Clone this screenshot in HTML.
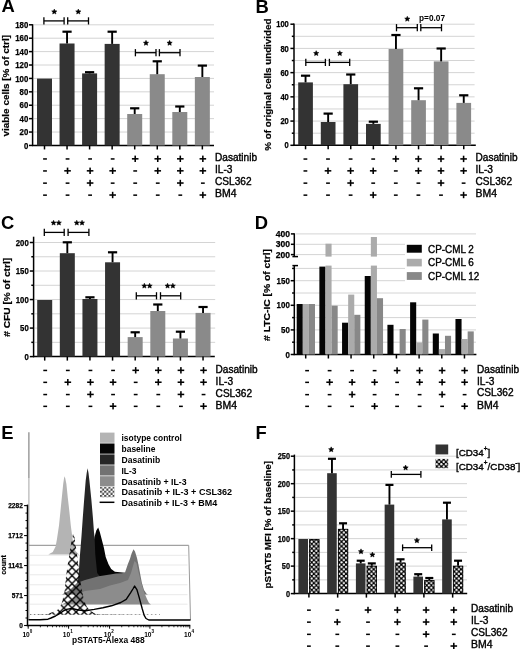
<!DOCTYPE html>
<html><head><meta charset="utf-8"><style>
html,body{margin:0;padding:0;background:#fff;-webkit-font-smoothing:antialiased;}
svg{display:block;will-change:transform;}
text{font-family:"Liberation Sans",sans-serif;}
</style></head><body>
<svg width="520" height="649" viewBox="0 0 520 649">
<defs>
<pattern id="chk" patternUnits="userSpaceOnUse" width="4.6" height="4.6">
<rect width="4.6" height="4.6" fill="#000"/>
<circle cx="1.15" cy="1.15" r="1.15" fill="#fff"/>
<circle cx="3.45" cy="3.45" r="1.15" fill="#fff"/>
</pattern>
<pattern id="chk2" patternUnits="userSpaceOnUse" width="4.6" height="4.6" patternTransform="translate(435.6,458.4)">
<rect width="4.6" height="4.6" fill="#000"/>
<circle cx="1.15" cy="1.15" r="1.15" fill="#fff"/>
<circle cx="3.45" cy="3.45" r="1.15" fill="#fff"/>
</pattern>
<pattern id="xh" patternUnits="userSpaceOnUse" width="8.1" height="8.1" patternTransform="translate(3.2,4.5)">
<path d="M-1,-1L9.1,9.1M9.1,-1L-1,9.1" stroke="#000" stroke-width="1.4"/>
</pattern>
<pattern id="fchk" patternUnits="userSpaceOnUse" width="4.2" height="4.2" patternTransform="translate(100,486.5)">
<rect width="4.2" height="4.2" fill="#fff"/>
<rect width="2.1" height="2.1" fill="#4a4a4a"/>
<rect x="2.1" y="2.1" width="2.1" height="2.1" fill="#4a4a4a"/>
</pattern>
</defs>
<rect width="520" height="649" fill="#fff"/>
<line x1="33.6" y1="132.04" x2="214" y2="132.04" stroke="#d4d4d4" stroke-width="1" />
<line x1="33.6" y1="118.64" x2="214" y2="118.64" stroke="#d4d4d4" stroke-width="1" />
<line x1="33.6" y1="105.23" x2="214" y2="105.23" stroke="#d4d4d4" stroke-width="1" />
<line x1="33.6" y1="91.83" x2="214" y2="91.83" stroke="#d4d4d4" stroke-width="1" />
<line x1="33.6" y1="78.42" x2="214" y2="78.42" stroke="#d4d4d4" stroke-width="1" />
<line x1="33.6" y1="65.02" x2="214" y2="65.02" stroke="#d4d4d4" stroke-width="1" />
<line x1="33.6" y1="51.61" x2="214" y2="51.61" stroke="#d4d4d4" stroke-width="1" />
<line x1="33.6" y1="38.21" x2="214" y2="38.21" stroke="#d4d4d4" stroke-width="1" />
<line x1="33.6" y1="24.8" x2="214" y2="24.8" stroke="#d4d4d4" stroke-width="1" />
<line x1="29" y1="145.45" x2="32.6" y2="145.45" stroke="#000" stroke-width="1.5" />
<text x="28.3" y="148.53" font-size="8.6" font-weight="bold" text-anchor="end" textLength="4.35" lengthAdjust="spacingAndGlyphs" stroke="#000" stroke-width="0.25">0</text>
<line x1="29" y1="132.04" x2="32.6" y2="132.04" stroke="#000" stroke-width="1.5" />
<text x="28.3" y="135.12" font-size="8.6" font-weight="bold" text-anchor="end" textLength="8.7" lengthAdjust="spacingAndGlyphs" stroke="#000" stroke-width="0.25">20</text>
<line x1="29" y1="118.64" x2="32.6" y2="118.64" stroke="#000" stroke-width="1.5" />
<text x="28.3" y="121.72" font-size="8.6" font-weight="bold" text-anchor="end" textLength="8.7" lengthAdjust="spacingAndGlyphs" stroke="#000" stroke-width="0.25">40</text>
<line x1="29" y1="105.23" x2="32.6" y2="105.23" stroke="#000" stroke-width="1.5" />
<text x="28.3" y="108.31" font-size="8.6" font-weight="bold" text-anchor="end" textLength="8.7" lengthAdjust="spacingAndGlyphs" stroke="#000" stroke-width="0.25">60</text>
<line x1="29" y1="91.83" x2="32.6" y2="91.83" stroke="#000" stroke-width="1.5" />
<text x="28.3" y="94.91" font-size="8.6" font-weight="bold" text-anchor="end" textLength="8.7" lengthAdjust="spacingAndGlyphs" stroke="#000" stroke-width="0.25">80</text>
<line x1="29" y1="78.42" x2="32.6" y2="78.42" stroke="#000" stroke-width="1.5" />
<text x="28.3" y="81.5" font-size="8.6" font-weight="bold" text-anchor="end" textLength="13.05" lengthAdjust="spacingAndGlyphs" stroke="#000" stroke-width="0.25">100</text>
<line x1="29" y1="65.02" x2="32.6" y2="65.02" stroke="#000" stroke-width="1.5" />
<text x="28.3" y="68.1" font-size="8.6" font-weight="bold" text-anchor="end" textLength="13.05" lengthAdjust="spacingAndGlyphs" stroke="#000" stroke-width="0.25">120</text>
<line x1="29" y1="51.61" x2="32.6" y2="51.61" stroke="#000" stroke-width="1.5" />
<text x="28.3" y="54.69" font-size="8.6" font-weight="bold" text-anchor="end" textLength="13.05" lengthAdjust="spacingAndGlyphs" stroke="#000" stroke-width="0.25">140</text>
<line x1="29" y1="38.21" x2="32.6" y2="38.21" stroke="#000" stroke-width="1.5" />
<text x="28.3" y="41.28" font-size="8.6" font-weight="bold" text-anchor="end" textLength="13.05" lengthAdjust="spacingAndGlyphs" stroke="#000" stroke-width="0.25">160</text>
<line x1="29" y1="24.8" x2="32.6" y2="24.8" stroke="#000" stroke-width="1.5" />
<text x="28.3" y="27.88" font-size="8.6" font-weight="bold" text-anchor="end" textLength="13.05" lengthAdjust="spacingAndGlyphs" stroke="#000" stroke-width="0.25">180</text>
<line x1="32.6" y1="24.2" x2="32.6" y2="146.05" stroke="#000" stroke-width="1.5" />
<line x1="32" y1="145.45" x2="214" y2="145.45" stroke="#000" stroke-width="1.5" />
<rect x="37" y="78.6" width="15" height="66.85" fill="#333333"/>
<line x1="44.5" y1="145.45" x2="44.5" y2="149.45" stroke="#000" stroke-width="1.5" />
<rect x="59.55" y="43.5" width="15" height="101.95" fill="#333333"/>
<line x1="67.05" y1="43.5" x2="67.05" y2="31.7" stroke="#000" stroke-width="1.9" />
<line x1="62.45" y1="31.7" x2="71.65" y2="31.7" stroke="#000" stroke-width="2.2" />
<line x1="67.05" y1="145.45" x2="67.05" y2="149.45" stroke="#000" stroke-width="1.5" />
<rect x="82.1" y="73.4" width="15" height="72.05" fill="#333333"/>
<line x1="89.6" y1="73.4" x2="89.6" y2="72.2" stroke="#000" stroke-width="1.9" />
<line x1="85" y1="72.2" x2="94.2" y2="72.2" stroke="#000" stroke-width="2.2" />
<line x1="89.6" y1="145.45" x2="89.6" y2="149.45" stroke="#000" stroke-width="1.5" />
<rect x="104.65" y="43.9" width="15" height="101.55" fill="#333333"/>
<line x1="112.15" y1="43.9" x2="112.15" y2="31.7" stroke="#000" stroke-width="1.9" />
<line x1="107.55" y1="31.7" x2="116.75" y2="31.7" stroke="#000" stroke-width="2.2" />
<line x1="112.15" y1="145.45" x2="112.15" y2="149.45" stroke="#000" stroke-width="1.5" />
<rect x="127.2" y="114" width="15" height="31.45" fill="#8a8a8a"/>
<line x1="134.7" y1="114" x2="134.7" y2="108.3" stroke="#000" stroke-width="1.9" />
<line x1="130.1" y1="108.3" x2="139.3" y2="108.3" stroke="#000" stroke-width="2.2" />
<line x1="134.7" y1="145.45" x2="134.7" y2="149.45" stroke="#000" stroke-width="1.5" />
<rect x="149.75" y="74.2" width="15" height="71.25" fill="#8a8a8a"/>
<line x1="157.25" y1="74.2" x2="157.25" y2="61.3" stroke="#000" stroke-width="1.9" />
<line x1="152.65" y1="61.3" x2="161.85" y2="61.3" stroke="#000" stroke-width="2.2" />
<line x1="157.25" y1="145.45" x2="157.25" y2="149.45" stroke="#000" stroke-width="1.5" />
<rect x="172.3" y="112" width="15" height="33.45" fill="#8a8a8a"/>
<line x1="179.8" y1="112" x2="179.8" y2="106.5" stroke="#000" stroke-width="1.9" />
<line x1="175.2" y1="106.5" x2="184.4" y2="106.5" stroke="#000" stroke-width="2.2" />
<line x1="179.8" y1="145.45" x2="179.8" y2="149.45" stroke="#000" stroke-width="1.5" />
<rect x="194.85" y="77" width="15" height="68.45" fill="#8a8a8a"/>
<line x1="202.35" y1="77" x2="202.35" y2="65.6" stroke="#000" stroke-width="1.9" />
<line x1="197.75" y1="65.6" x2="206.95" y2="65.6" stroke="#000" stroke-width="2.2" />
<line x1="202.35" y1="145.45" x2="202.35" y2="149.45" stroke="#000" stroke-width="1.5" />
<line x1="43.9" y1="20.9" x2="64.1" y2="20.9" stroke="#000" stroke-width="1.3" />
<line x1="43.9" y1="17.3" x2="43.9" y2="24.5" stroke="#000" stroke-width="1.3" />
<line x1="64.1" y1="17.3" x2="64.1" y2="24.5" stroke="#000" stroke-width="1.3" />
<path d="M54.3,9.05 L55.06,10.75 L56.92,10.95 L55.54,12.2 L55.92,14.02 L54.3,13.1 L52.68,14.02 L53.06,12.2 L51.68,10.95 L53.54,10.75 Z" fill="#000" stroke="#000" stroke-width="0.5" stroke-linejoin="round"/>
<line x1="67.7" y1="20.9" x2="88.5" y2="20.9" stroke="#000" stroke-width="1.3" />
<line x1="67.7" y1="17.3" x2="67.7" y2="24.5" stroke="#000" stroke-width="1.3" />
<line x1="88.5" y1="17.3" x2="88.5" y2="24.5" stroke="#000" stroke-width="1.3" />
<path d="M78.3,9.05 L79.06,10.75 L80.92,10.95 L79.54,12.2 L79.92,14.02 L78.3,13.1 L76.68,14.02 L77.06,12.2 L75.68,10.95 L77.54,10.75 Z" fill="#000" stroke="#000" stroke-width="0.5" stroke-linejoin="round"/>
<line x1="135.4" y1="52.7" x2="156" y2="52.7" stroke="#000" stroke-width="1.3" />
<line x1="135.4" y1="49.1" x2="135.4" y2="56.3" stroke="#000" stroke-width="1.3" />
<line x1="156" y1="49.1" x2="156" y2="56.3" stroke="#000" stroke-width="1.3" />
<path d="M146,40.35 L146.76,42.05 L148.62,42.25 L147.24,43.5 L147.62,45.32 L146,44.4 L144.38,45.32 L144.76,43.5 L143.38,42.25 L145.24,42.05 Z" fill="#000" stroke="#000" stroke-width="0.5" stroke-linejoin="round"/>
<line x1="159.4" y1="52.7" x2="180" y2="52.7" stroke="#000" stroke-width="1.3" />
<line x1="159.4" y1="49.1" x2="159.4" y2="56.3" stroke="#000" stroke-width="1.3" />
<line x1="180" y1="49.1" x2="180" y2="56.3" stroke="#000" stroke-width="1.3" />
<path d="M169.6,40.35 L170.36,42.05 L172.22,42.25 L170.84,43.5 L171.22,45.32 L169.6,44.4 L167.98,45.32 L168.36,43.5 L166.98,42.25 L168.84,42.05 Z" fill="#000" stroke="#000" stroke-width="0.5" stroke-linejoin="round"/>
<text transform="translate(9.4,85.75) rotate(-90)" x="0" y="0" font-size="9.6" font-weight="bold" text-anchor="middle" textLength="101.5" lengthAdjust="spacingAndGlyphs" stroke="#000" stroke-width="0.2">viable cells [% of ctrl]</text>
<rect x="43.1" y="158.2" width="3.8" height="1.5" fill="#000"/>
<rect x="65.65" y="158.2" width="3.8" height="1.5" fill="#000"/>
<rect x="88.2" y="158.2" width="3.8" height="1.5" fill="#000"/>
<rect x="110.75" y="158.2" width="3.8" height="1.5" fill="#000"/>
<rect x="131.9" y="158.05" width="6.6" height="1.55" fill="#000"/>
<rect x="134.42" y="155.6" width="1.55" height="6.4" fill="#000"/>
<rect x="154.45" y="158.05" width="6.6" height="1.55" fill="#000"/>
<rect x="156.97" y="155.6" width="1.55" height="6.4" fill="#000"/>
<rect x="177" y="158.05" width="6.6" height="1.55" fill="#000"/>
<rect x="179.52" y="155.6" width="1.55" height="6.4" fill="#000"/>
<rect x="199.55" y="158.05" width="6.6" height="1.55" fill="#000"/>
<rect x="202.07" y="155.6" width="1.55" height="6.4" fill="#000"/>
<text x="215" y="160.6" font-size="10.3" font-weight="normal" text-anchor="start" fill="#000" textLength="42" lengthAdjust="spacingAndGlyphs"  stroke="#000" stroke-width="0.38">Dasatinib</text>
<rect x="43.1" y="170.2" width="3.8" height="1.5" fill="#000"/>
<rect x="64.25" y="170.05" width="6.6" height="1.55" fill="#000"/>
<rect x="66.77" y="167.6" width="1.55" height="6.4" fill="#000"/>
<rect x="86.8" y="170.05" width="6.6" height="1.55" fill="#000"/>
<rect x="89.32" y="167.6" width="1.55" height="6.4" fill="#000"/>
<rect x="109.35" y="170.05" width="6.6" height="1.55" fill="#000"/>
<rect x="111.87" y="167.6" width="1.55" height="6.4" fill="#000"/>
<rect x="133.3" y="170.2" width="3.8" height="1.5" fill="#000"/>
<rect x="154.45" y="170.05" width="6.6" height="1.55" fill="#000"/>
<rect x="156.97" y="167.6" width="1.55" height="6.4" fill="#000"/>
<rect x="177" y="170.05" width="6.6" height="1.55" fill="#000"/>
<rect x="179.52" y="167.6" width="1.55" height="6.4" fill="#000"/>
<rect x="199.55" y="170.05" width="6.6" height="1.55" fill="#000"/>
<rect x="202.07" y="167.6" width="1.55" height="6.4" fill="#000"/>
<text x="215" y="172.7" font-size="10.3" font-weight="normal" text-anchor="start" fill="#000" textLength="17.5" lengthAdjust="spacingAndGlyphs"  stroke="#000" stroke-width="0.38">IL-3</text>
<rect x="43.1" y="182.4" width="3.8" height="1.5" fill="#000"/>
<rect x="65.65" y="182.4" width="3.8" height="1.5" fill="#000"/>
<rect x="86.8" y="182.25" width="6.6" height="1.55" fill="#000"/>
<rect x="89.32" y="179.8" width="1.55" height="6.4" fill="#000"/>
<rect x="110.75" y="182.4" width="3.8" height="1.5" fill="#000"/>
<rect x="133.3" y="182.4" width="3.8" height="1.5" fill="#000"/>
<rect x="155.85" y="182.4" width="3.8" height="1.5" fill="#000"/>
<rect x="177" y="182.25" width="6.6" height="1.55" fill="#000"/>
<rect x="179.52" y="179.8" width="1.55" height="6.4" fill="#000"/>
<rect x="200.95" y="182.4" width="3.8" height="1.5" fill="#000"/>
<text x="215" y="184.9" font-size="10.3" font-weight="normal" text-anchor="start" fill="#000" textLength="36.5" lengthAdjust="spacingAndGlyphs"  stroke="#000" stroke-width="0.38">CSL362</text>
<rect x="43.1" y="194.4" width="3.8" height="1.5" fill="#000"/>
<rect x="65.65" y="194.4" width="3.8" height="1.5" fill="#000"/>
<rect x="88.2" y="194.4" width="3.8" height="1.5" fill="#000"/>
<rect x="109.35" y="194.25" width="6.6" height="1.55" fill="#000"/>
<rect x="111.87" y="191.8" width="1.55" height="6.4" fill="#000"/>
<rect x="133.3" y="194.4" width="3.8" height="1.5" fill="#000"/>
<rect x="155.85" y="194.4" width="3.8" height="1.5" fill="#000"/>
<rect x="178.4" y="194.4" width="3.8" height="1.5" fill="#000"/>
<rect x="199.55" y="194.25" width="6.6" height="1.55" fill="#000"/>
<rect x="202.07" y="191.8" width="1.55" height="6.4" fill="#000"/>
<text x="215" y="196.9" font-size="10.3" font-weight="normal" text-anchor="start" fill="#000" textLength="21.5" lengthAdjust="spacingAndGlyphs"  stroke="#000" stroke-width="0.38">BM4</text>
<text x="1.6" y="12.4" font-size="18.4" font-weight="bold" text-anchor="start" fill="#000" >A</text>
<line x1="295" y1="133.19" x2="474.6" y2="133.19" stroke="#d4d4d4" stroke-width="1" />
<line x1="295" y1="121.08" x2="474.6" y2="121.08" stroke="#d4d4d4" stroke-width="1" />
<line x1="295" y1="108.97" x2="474.6" y2="108.97" stroke="#d4d4d4" stroke-width="1" />
<line x1="295" y1="96.86" x2="474.6" y2="96.86" stroke="#d4d4d4" stroke-width="1" />
<line x1="295" y1="84.75" x2="474.6" y2="84.75" stroke="#d4d4d4" stroke-width="1" />
<line x1="295" y1="72.64" x2="474.6" y2="72.64" stroke="#d4d4d4" stroke-width="1" />
<line x1="295" y1="60.53" x2="474.6" y2="60.53" stroke="#d4d4d4" stroke-width="1" />
<line x1="295" y1="48.42" x2="474.6" y2="48.42" stroke="#d4d4d4" stroke-width="1" />
<line x1="295" y1="36.31" x2="474.6" y2="36.31" stroke="#d4d4d4" stroke-width="1" />
<line x1="295" y1="24.2" x2="474.6" y2="24.2" stroke="#d4d4d4" stroke-width="1" />
<line x1="290.4" y1="145.3" x2="294" y2="145.3" stroke="#000" stroke-width="1.5" />
<text x="288.8" y="148.38" font-size="8.6" font-weight="bold" text-anchor="end" textLength="4.2" lengthAdjust="spacingAndGlyphs" stroke="#000" stroke-width="0.25">0</text>
<line x1="291.8" y1="133.19" x2="294" y2="133.19" stroke="#000" stroke-width="1.5" />
<line x1="290.4" y1="121.08" x2="294" y2="121.08" stroke="#000" stroke-width="1.5" />
<text x="288.8" y="124.16" font-size="8.6" font-weight="bold" text-anchor="end" textLength="8.4" lengthAdjust="spacingAndGlyphs" stroke="#000" stroke-width="0.25">20</text>
<line x1="291.8" y1="108.97" x2="294" y2="108.97" stroke="#000" stroke-width="1.5" />
<line x1="290.4" y1="96.86" x2="294" y2="96.86" stroke="#000" stroke-width="1.5" />
<text x="288.8" y="99.94" font-size="8.6" font-weight="bold" text-anchor="end" textLength="8.4" lengthAdjust="spacingAndGlyphs" stroke="#000" stroke-width="0.25">40</text>
<line x1="291.8" y1="84.75" x2="294" y2="84.75" stroke="#000" stroke-width="1.5" />
<line x1="290.4" y1="72.64" x2="294" y2="72.64" stroke="#000" stroke-width="1.5" />
<text x="288.8" y="75.72" font-size="8.6" font-weight="bold" text-anchor="end" textLength="8.4" lengthAdjust="spacingAndGlyphs" stroke="#000" stroke-width="0.25">60</text>
<line x1="291.8" y1="60.53" x2="294" y2="60.53" stroke="#000" stroke-width="1.5" />
<line x1="290.4" y1="48.42" x2="294" y2="48.42" stroke="#000" stroke-width="1.5" />
<text x="288.8" y="51.5" font-size="8.6" font-weight="bold" text-anchor="end" textLength="8.4" lengthAdjust="spacingAndGlyphs" stroke="#000" stroke-width="0.25">80</text>
<line x1="291.8" y1="36.31" x2="294" y2="36.31" stroke="#000" stroke-width="1.5" />
<line x1="290.4" y1="24.2" x2="294" y2="24.2" stroke="#000" stroke-width="1.5" />
<text x="288.8" y="27.28" font-size="8.6" font-weight="bold" text-anchor="end" textLength="12.6" lengthAdjust="spacingAndGlyphs" stroke="#000" stroke-width="0.25">100</text>
<line x1="294" y1="23.6" x2="294" y2="145.9" stroke="#000" stroke-width="1.5" />
<line x1="293.4" y1="145.3" x2="475.8" y2="145.3" stroke="#000" stroke-width="1.5" />
<rect x="298.2" y="82.4" width="14.7" height="62.9" fill="#333333"/>
<line x1="305.55" y1="82.4" x2="305.55" y2="75.7" stroke="#000" stroke-width="1.9" />
<line x1="300.95" y1="75.7" x2="310.15" y2="75.7" stroke="#000" stroke-width="2.2" />
<line x1="305.55" y1="145.3" x2="305.55" y2="149.3" stroke="#000" stroke-width="1.5" />
<rect x="320.8" y="122" width="14.7" height="23.3" fill="#333333"/>
<line x1="328.15" y1="122" x2="328.15" y2="113.6" stroke="#000" stroke-width="1.9" />
<line x1="323.55" y1="113.6" x2="332.75" y2="113.6" stroke="#000" stroke-width="2.2" />
<line x1="328.15" y1="145.3" x2="328.15" y2="149.3" stroke="#000" stroke-width="1.5" />
<rect x="343.4" y="84.2" width="14.7" height="61.1" fill="#333333"/>
<line x1="350.75" y1="84.2" x2="350.75" y2="74.5" stroke="#000" stroke-width="1.9" />
<line x1="346.15" y1="74.5" x2="355.35" y2="74.5" stroke="#000" stroke-width="2.2" />
<line x1="350.75" y1="145.3" x2="350.75" y2="149.3" stroke="#000" stroke-width="1.5" />
<rect x="366" y="123.9" width="14.7" height="21.4" fill="#333333"/>
<line x1="373.35" y1="123.9" x2="373.35" y2="121.7" stroke="#000" stroke-width="1.9" />
<line x1="368.75" y1="121.7" x2="377.95" y2="121.7" stroke="#000" stroke-width="2.2" />
<line x1="373.35" y1="145.3" x2="373.35" y2="149.3" stroke="#000" stroke-width="1.5" />
<rect x="388.6" y="49" width="14.7" height="96.3" fill="#8a8a8a"/>
<line x1="395.95" y1="49" x2="395.95" y2="35" stroke="#000" stroke-width="1.9" />
<line x1="391.35" y1="35" x2="400.55" y2="35" stroke="#000" stroke-width="2.2" />
<line x1="395.95" y1="145.3" x2="395.95" y2="149.3" stroke="#000" stroke-width="1.5" />
<rect x="411.2" y="100.2" width="14.7" height="45.1" fill="#8a8a8a"/>
<line x1="418.55" y1="100.2" x2="418.55" y2="88.3" stroke="#000" stroke-width="1.9" />
<line x1="413.95" y1="88.3" x2="423.15" y2="88.3" stroke="#000" stroke-width="2.2" />
<line x1="418.55" y1="145.3" x2="418.55" y2="149.3" stroke="#000" stroke-width="1.5" />
<rect x="433.8" y="61.4" width="14.7" height="83.9" fill="#8a8a8a"/>
<line x1="441.15" y1="61.4" x2="441.15" y2="48.5" stroke="#000" stroke-width="1.9" />
<line x1="436.55" y1="48.5" x2="445.75" y2="48.5" stroke="#000" stroke-width="2.2" />
<line x1="441.15" y1="145.3" x2="441.15" y2="149.3" stroke="#000" stroke-width="1.5" />
<rect x="456.4" y="102.9" width="14.7" height="42.4" fill="#8a8a8a"/>
<line x1="463.75" y1="102.9" x2="463.75" y2="95.3" stroke="#000" stroke-width="1.9" />
<line x1="459.15" y1="95.3" x2="468.35" y2="95.3" stroke="#000" stroke-width="2.2" />
<line x1="463.75" y1="145.3" x2="463.75" y2="149.3" stroke="#000" stroke-width="1.5" />
<line x1="305.8" y1="62.4" x2="325.4" y2="62.4" stroke="#000" stroke-width="1.3" />
<line x1="305.8" y1="58.8" x2="305.8" y2="66" stroke="#000" stroke-width="1.3" />
<line x1="325.4" y1="58.8" x2="325.4" y2="66" stroke="#000" stroke-width="1.3" />
<path d="M316.2,50.65 L316.96,52.35 L318.82,52.55 L317.44,53.8 L317.82,55.62 L316.2,54.7 L314.58,55.62 L314.96,53.8 L313.58,52.55 L315.44,52.35 Z" fill="#000" stroke="#000" stroke-width="0.5" stroke-linejoin="round"/>
<line x1="329.4" y1="62.4" x2="349.7" y2="62.4" stroke="#000" stroke-width="1.3" />
<line x1="329.4" y1="58.8" x2="329.4" y2="66" stroke="#000" stroke-width="1.3" />
<line x1="349.7" y1="58.8" x2="349.7" y2="66" stroke="#000" stroke-width="1.3" />
<path d="M339.8,50.65 L340.56,52.35 L342.42,52.55 L341.04,53.8 L341.42,55.62 L339.8,54.7 L338.18,55.62 L338.56,53.8 L337.18,52.55 L339.04,52.35 Z" fill="#000" stroke="#000" stroke-width="0.5" stroke-linejoin="round"/>
<line x1="396.5" y1="27.7" x2="417.3" y2="27.7" stroke="#000" stroke-width="1.3" />
<line x1="396.5" y1="24.1" x2="396.5" y2="31.3" stroke="#000" stroke-width="1.3" />
<line x1="417.3" y1="24.1" x2="417.3" y2="31.3" stroke="#000" stroke-width="1.3" />
<path d="M407.3,16.25 L408.06,17.95 L409.92,18.15 L408.54,19.4 L408.92,21.22 L407.3,20.3 L405.68,21.22 L406.06,19.4 L404.68,18.15 L406.54,17.95 Z" fill="#000" stroke="#000" stroke-width="0.5" stroke-linejoin="round"/>
<line x1="420.8" y1="27.7" x2="441.5" y2="27.7" stroke="#000" stroke-width="1.3" />
<line x1="420.8" y1="24.1" x2="420.8" y2="31.3" stroke="#000" stroke-width="1.3" />
<line x1="441.5" y1="24.1" x2="441.5" y2="31.3" stroke="#000" stroke-width="1.3" />
<text x="419" y="21.2" font-size="8.2" font-weight="bold" text-anchor="start" fill="#000" textLength="26" lengthAdjust="spacingAndGlyphs" >p=0.07</text>
<text transform="translate(270.9,84.65) rotate(-90)" x="0" y="0" font-size="9.6" font-weight="bold" text-anchor="middle" textLength="132.1" lengthAdjust="spacingAndGlyphs" stroke="#000" stroke-width="0.2">% of original cells undivided</text>
<rect x="303.5" y="158.3" width="3.8" height="1.5" fill="#000"/>
<rect x="326.1" y="158.3" width="3.8" height="1.5" fill="#000"/>
<rect x="348.7" y="158.3" width="3.8" height="1.5" fill="#000"/>
<rect x="371.3" y="158.3" width="3.8" height="1.5" fill="#000"/>
<rect x="392.5" y="158.15" width="6.6" height="1.55" fill="#000"/>
<rect x="395.02" y="155.7" width="1.55" height="6.4" fill="#000"/>
<rect x="415.1" y="158.15" width="6.6" height="1.55" fill="#000"/>
<rect x="417.62" y="155.7" width="1.55" height="6.4" fill="#000"/>
<rect x="437.7" y="158.15" width="6.6" height="1.55" fill="#000"/>
<rect x="440.22" y="155.7" width="1.55" height="6.4" fill="#000"/>
<rect x="460.3" y="158.15" width="6.6" height="1.55" fill="#000"/>
<rect x="462.82" y="155.7" width="1.55" height="6.4" fill="#000"/>
<text x="475.5" y="160.8" font-size="10.3" font-weight="normal" text-anchor="start" fill="#000" textLength="42" lengthAdjust="spacingAndGlyphs"  stroke="#000" stroke-width="0.38">Dasatinib</text>
<rect x="303.5" y="170.2" width="3.8" height="1.5" fill="#000"/>
<rect x="324.7" y="170.05" width="6.6" height="1.55" fill="#000"/>
<rect x="327.22" y="167.6" width="1.55" height="6.4" fill="#000"/>
<rect x="347.3" y="170.05" width="6.6" height="1.55" fill="#000"/>
<rect x="349.82" y="167.6" width="1.55" height="6.4" fill="#000"/>
<rect x="369.9" y="170.05" width="6.6" height="1.55" fill="#000"/>
<rect x="372.42" y="167.6" width="1.55" height="6.4" fill="#000"/>
<rect x="393.9" y="170.2" width="3.8" height="1.5" fill="#000"/>
<rect x="415.1" y="170.05" width="6.6" height="1.55" fill="#000"/>
<rect x="417.62" y="167.6" width="1.55" height="6.4" fill="#000"/>
<rect x="437.7" y="170.05" width="6.6" height="1.55" fill="#000"/>
<rect x="440.22" y="167.6" width="1.55" height="6.4" fill="#000"/>
<rect x="460.3" y="170.05" width="6.6" height="1.55" fill="#000"/>
<rect x="462.82" y="167.6" width="1.55" height="6.4" fill="#000"/>
<text x="475.5" y="172.8" font-size="10.3" font-weight="normal" text-anchor="start" fill="#000" textLength="17.5" lengthAdjust="spacingAndGlyphs"  stroke="#000" stroke-width="0.38">IL-3</text>
<rect x="303.5" y="182.4" width="3.8" height="1.5" fill="#000"/>
<rect x="326.1" y="182.4" width="3.8" height="1.5" fill="#000"/>
<rect x="347.3" y="182.25" width="6.6" height="1.55" fill="#000"/>
<rect x="349.82" y="179.8" width="1.55" height="6.4" fill="#000"/>
<rect x="371.3" y="182.4" width="3.8" height="1.5" fill="#000"/>
<rect x="393.9" y="182.4" width="3.8" height="1.5" fill="#000"/>
<rect x="416.5" y="182.4" width="3.8" height="1.5" fill="#000"/>
<rect x="437.7" y="182.25" width="6.6" height="1.55" fill="#000"/>
<rect x="440.22" y="179.8" width="1.55" height="6.4" fill="#000"/>
<rect x="461.7" y="182.4" width="3.8" height="1.5" fill="#000"/>
<text x="475.5" y="185" font-size="10.3" font-weight="normal" text-anchor="start" fill="#000" textLength="36.5" lengthAdjust="spacingAndGlyphs"  stroke="#000" stroke-width="0.38">CSL362</text>
<rect x="303.5" y="194.4" width="3.8" height="1.5" fill="#000"/>
<rect x="326.1" y="194.4" width="3.8" height="1.5" fill="#000"/>
<rect x="348.7" y="194.4" width="3.8" height="1.5" fill="#000"/>
<rect x="369.9" y="194.25" width="6.6" height="1.55" fill="#000"/>
<rect x="372.42" y="191.8" width="1.55" height="6.4" fill="#000"/>
<rect x="393.9" y="194.4" width="3.8" height="1.5" fill="#000"/>
<rect x="416.5" y="194.4" width="3.8" height="1.5" fill="#000"/>
<rect x="439.1" y="194.4" width="3.8" height="1.5" fill="#000"/>
<rect x="460.3" y="194.25" width="6.6" height="1.55" fill="#000"/>
<rect x="462.82" y="191.8" width="1.55" height="6.4" fill="#000"/>
<text x="475.5" y="197" font-size="10.3" font-weight="normal" text-anchor="start" fill="#000" textLength="21.5" lengthAdjust="spacingAndGlyphs"  stroke="#000" stroke-width="0.38">BM4</text>
<text x="255.5" y="12.6" font-size="18.4" font-weight="bold" text-anchor="start" fill="#000" >B</text>
<line x1="34.6" y1="342.34" x2="215.2" y2="342.34" stroke="#d4d4d4" stroke-width="1" />
<line x1="34.6" y1="328.08" x2="215.2" y2="328.08" stroke="#d4d4d4" stroke-width="1" />
<line x1="34.6" y1="313.81" x2="215.2" y2="313.81" stroke="#d4d4d4" stroke-width="1" />
<line x1="34.6" y1="299.55" x2="215.2" y2="299.55" stroke="#d4d4d4" stroke-width="1" />
<line x1="34.6" y1="285.29" x2="215.2" y2="285.29" stroke="#d4d4d4" stroke-width="1" />
<line x1="34.6" y1="271.03" x2="215.2" y2="271.03" stroke="#d4d4d4" stroke-width="1" />
<line x1="34.6" y1="256.76" x2="215.2" y2="256.76" stroke="#d4d4d4" stroke-width="1" />
<line x1="34.6" y1="242.5" x2="215.2" y2="242.5" stroke="#d4d4d4" stroke-width="1" />
<line x1="29.8" y1="356.6" x2="33.6" y2="356.6" stroke="#000" stroke-width="1.5" />
<text x="28.7" y="359.68" font-size="8.6" font-weight="bold" text-anchor="end" textLength="4.3" lengthAdjust="spacingAndGlyphs" stroke="#000" stroke-width="0.25">0</text>
<line x1="31.3" y1="342.34" x2="33.6" y2="342.34" stroke="#000" stroke-width="1.5" />
<line x1="29.8" y1="328.08" x2="33.6" y2="328.08" stroke="#000" stroke-width="1.5" />
<text x="28.7" y="331.15" font-size="8.6" font-weight="bold" text-anchor="end" textLength="8.6" lengthAdjust="spacingAndGlyphs" stroke="#000" stroke-width="0.25">50</text>
<line x1="31.3" y1="313.81" x2="33.6" y2="313.81" stroke="#000" stroke-width="1.5" />
<line x1="29.8" y1="299.55" x2="33.6" y2="299.55" stroke="#000" stroke-width="1.5" />
<text x="28.7" y="302.63" font-size="8.6" font-weight="bold" text-anchor="end" textLength="12.9" lengthAdjust="spacingAndGlyphs" stroke="#000" stroke-width="0.25">100</text>
<line x1="31.3" y1="285.29" x2="33.6" y2="285.29" stroke="#000" stroke-width="1.5" />
<line x1="29.8" y1="271.03" x2="33.6" y2="271.03" stroke="#000" stroke-width="1.5" />
<text x="28.7" y="274.1" font-size="8.6" font-weight="bold" text-anchor="end" textLength="12.9" lengthAdjust="spacingAndGlyphs" stroke="#000" stroke-width="0.25">150</text>
<line x1="31.3" y1="256.76" x2="33.6" y2="256.76" stroke="#000" stroke-width="1.5" />
<line x1="29.8" y1="242.5" x2="33.6" y2="242.5" stroke="#000" stroke-width="1.5" />
<text x="28.7" y="245.58" font-size="8.6" font-weight="bold" text-anchor="end" textLength="12.9" lengthAdjust="spacingAndGlyphs" stroke="#000" stroke-width="0.25">200</text>
<line x1="33.6" y1="236.7" x2="33.6" y2="357.2" stroke="#000" stroke-width="1.5" />
<line x1="33" y1="356.6" x2="214.8" y2="356.6" stroke="#000" stroke-width="1.5" />
<rect x="37.2" y="300" width="15" height="56.6" fill="#333333"/>
<line x1="44.7" y1="356.6" x2="44.7" y2="360.6" stroke="#000" stroke-width="1.5" />
<rect x="59.82" y="253.2" width="15" height="103.4" fill="#333333"/>
<line x1="67.32" y1="253.2" x2="67.32" y2="242.3" stroke="#000" stroke-width="1.9" />
<line x1="62.72" y1="242.3" x2="71.92" y2="242.3" stroke="#000" stroke-width="2.2" />
<line x1="67.32" y1="356.6" x2="67.32" y2="360.6" stroke="#000" stroke-width="1.5" />
<rect x="82.44" y="299" width="15" height="57.6" fill="#333333"/>
<line x1="89.94" y1="299" x2="89.94" y2="297.3" stroke="#000" stroke-width="1.9" />
<line x1="85.34" y1="297.3" x2="94.54" y2="297.3" stroke="#000" stroke-width="2.2" />
<line x1="89.94" y1="356.6" x2="89.94" y2="360.6" stroke="#000" stroke-width="1.5" />
<rect x="105.06" y="262.3" width="15" height="94.3" fill="#333333"/>
<line x1="112.56" y1="262.3" x2="112.56" y2="252.3" stroke="#000" stroke-width="1.9" />
<line x1="107.96" y1="252.3" x2="117.16" y2="252.3" stroke="#000" stroke-width="2.2" />
<line x1="112.56" y1="356.6" x2="112.56" y2="360.6" stroke="#000" stroke-width="1.5" />
<rect x="127.68" y="337.1" width="15" height="19.5" fill="#8a8a8a"/>
<line x1="135.18" y1="337.1" x2="135.18" y2="332.3" stroke="#000" stroke-width="1.9" />
<line x1="130.58" y1="332.3" x2="139.78" y2="332.3" stroke="#000" stroke-width="2.2" />
<line x1="135.18" y1="356.6" x2="135.18" y2="360.6" stroke="#000" stroke-width="1.5" />
<rect x="150.3" y="311" width="15" height="45.6" fill="#8a8a8a"/>
<line x1="157.8" y1="311" x2="157.8" y2="304.5" stroke="#000" stroke-width="1.9" />
<line x1="153.2" y1="304.5" x2="162.4" y2="304.5" stroke="#000" stroke-width="2.2" />
<line x1="157.8" y1="356.6" x2="157.8" y2="360.6" stroke="#000" stroke-width="1.5" />
<rect x="172.92" y="338.5" width="15" height="18.1" fill="#8a8a8a"/>
<line x1="180.42" y1="338.5" x2="180.42" y2="331.7" stroke="#000" stroke-width="1.9" />
<line x1="175.82" y1="331.7" x2="185.02" y2="331.7" stroke="#000" stroke-width="2.2" />
<line x1="180.42" y1="356.6" x2="180.42" y2="360.6" stroke="#000" stroke-width="1.5" />
<rect x="195.54" y="312.9" width="15" height="43.7" fill="#8a8a8a"/>
<line x1="203.04" y1="312.9" x2="203.04" y2="307" stroke="#000" stroke-width="1.9" />
<line x1="198.44" y1="307" x2="207.64" y2="307" stroke="#000" stroke-width="2.2" />
<line x1="203.04" y1="356.6" x2="203.04" y2="360.6" stroke="#000" stroke-width="1.5" />
<line x1="44.3" y1="232.4" x2="64.2" y2="232.4" stroke="#000" stroke-width="1.3" />
<line x1="44.3" y1="228.8" x2="44.3" y2="236" stroke="#000" stroke-width="1.3" />
<line x1="64.2" y1="228.8" x2="64.2" y2="236" stroke="#000" stroke-width="1.3" />
<path d="M53.55,220.2 L54.28,221.89 L56.12,222.07 L54.74,223.29 L55.14,225.08 L53.55,224.15 L51.96,225.08 L52.36,223.29 L50.98,222.07 L52.82,221.89 Z" fill="#000" stroke="#000" stroke-width="0.5" stroke-linejoin="round"/>
<path d="M58.85,220.2 L59.58,221.89 L61.42,222.07 L60.04,223.29 L60.44,225.08 L58.85,224.15 L57.26,225.08 L57.66,223.29 L56.28,222.07 L58.12,221.89 Z" fill="#000" stroke="#000" stroke-width="0.5" stroke-linejoin="round"/>
<line x1="68.1" y1="232.4" x2="88.9" y2="232.4" stroke="#000" stroke-width="1.3" />
<line x1="68.1" y1="228.8" x2="68.1" y2="236" stroke="#000" stroke-width="1.3" />
<line x1="88.9" y1="228.8" x2="88.9" y2="236" stroke="#000" stroke-width="1.3" />
<path d="M76.75,220.2 L77.48,221.89 L79.32,222.07 L77.94,223.29 L78.34,225.08 L76.75,224.15 L75.16,225.08 L75.56,223.29 L74.18,222.07 L76.02,221.89 Z" fill="#000" stroke="#000" stroke-width="0.5" stroke-linejoin="round"/>
<path d="M82.05,220.2 L82.78,221.89 L84.62,222.07 L83.24,223.29 L83.64,225.08 L82.05,224.15 L80.46,225.08 L80.86,223.29 L79.48,222.07 L81.32,221.89 Z" fill="#000" stroke="#000" stroke-width="0.5" stroke-linejoin="round"/>
<line x1="136.3" y1="295.8" x2="156.5" y2="295.8" stroke="#000" stroke-width="1.3" />
<line x1="136.3" y1="292.2" x2="136.3" y2="299.4" stroke="#000" stroke-width="1.3" />
<line x1="156.5" y1="292.2" x2="156.5" y2="299.4" stroke="#000" stroke-width="1.3" />
<path d="M144.35,283.2 L145.08,284.89 L146.92,285.07 L145.54,286.29 L145.94,288.08 L144.35,287.15 L142.76,288.08 L143.16,286.29 L141.78,285.07 L143.62,284.89 Z" fill="#000" stroke="#000" stroke-width="0.5" stroke-linejoin="round"/>
<path d="M149.65,283.2 L150.38,284.89 L152.22,285.07 L150.84,286.29 L151.24,288.08 L149.65,287.15 L148.06,288.08 L148.46,286.29 L147.08,285.07 L148.92,284.89 Z" fill="#000" stroke="#000" stroke-width="0.5" stroke-linejoin="round"/>
<line x1="160.5" y1="295.8" x2="180.7" y2="295.8" stroke="#000" stroke-width="1.3" />
<line x1="160.5" y1="292.2" x2="160.5" y2="299.4" stroke="#000" stroke-width="1.3" />
<line x1="180.7" y1="292.2" x2="180.7" y2="299.4" stroke="#000" stroke-width="1.3" />
<path d="M167.55,283.2 L168.28,284.89 L170.12,285.07 L168.74,286.29 L169.14,288.08 L167.55,287.15 L165.96,288.08 L166.36,286.29 L164.98,285.07 L166.82,284.89 Z" fill="#000" stroke="#000" stroke-width="0.5" stroke-linejoin="round"/>
<path d="M172.85,283.2 L173.58,284.89 L175.42,285.07 L174.04,286.29 L174.44,288.08 L172.85,287.15 L171.26,288.08 L171.66,286.29 L170.28,285.07 L172.12,284.89 Z" fill="#000" stroke="#000" stroke-width="0.5" stroke-linejoin="round"/>
<text transform="translate(9.9,297.3) rotate(-90)" x="0" y="0" font-size="9.8" font-weight="bold" text-anchor="middle" textLength="78.8" lengthAdjust="spacingAndGlyphs" stroke="#000" stroke-width="0.2"># CFU [% of ctrl]</text>
<rect x="43.3" y="369.7" width="3.8" height="1.5" fill="#000"/>
<rect x="65.92" y="369.7" width="3.8" height="1.5" fill="#000"/>
<rect x="88.54" y="369.7" width="3.8" height="1.5" fill="#000"/>
<rect x="111.16" y="369.7" width="3.8" height="1.5" fill="#000"/>
<rect x="132.38" y="369.55" width="6.6" height="1.55" fill="#000"/>
<rect x="134.9" y="367.1" width="1.55" height="6.4" fill="#000"/>
<rect x="155" y="369.55" width="6.6" height="1.55" fill="#000"/>
<rect x="157.52" y="367.1" width="1.55" height="6.4" fill="#000"/>
<rect x="177.62" y="369.55" width="6.6" height="1.55" fill="#000"/>
<rect x="180.14" y="367.1" width="1.55" height="6.4" fill="#000"/>
<rect x="200.24" y="369.55" width="6.6" height="1.55" fill="#000"/>
<rect x="202.76" y="367.1" width="1.55" height="6.4" fill="#000"/>
<text x="215.6" y="372.5" font-size="10.3" font-weight="normal" text-anchor="start" fill="#000" textLength="42" lengthAdjust="spacingAndGlyphs"  stroke="#000" stroke-width="0.38">Dasatinib</text>
<rect x="43.3" y="381.6" width="3.8" height="1.5" fill="#000"/>
<rect x="64.52" y="381.45" width="6.6" height="1.55" fill="#000"/>
<rect x="67.04" y="379" width="1.55" height="6.4" fill="#000"/>
<rect x="87.14" y="381.45" width="6.6" height="1.55" fill="#000"/>
<rect x="89.66" y="379" width="1.55" height="6.4" fill="#000"/>
<rect x="109.76" y="381.45" width="6.6" height="1.55" fill="#000"/>
<rect x="112.28" y="379" width="1.55" height="6.4" fill="#000"/>
<rect x="133.78" y="381.6" width="3.8" height="1.5" fill="#000"/>
<rect x="155" y="381.45" width="6.6" height="1.55" fill="#000"/>
<rect x="157.52" y="379" width="1.55" height="6.4" fill="#000"/>
<rect x="177.62" y="381.45" width="6.6" height="1.55" fill="#000"/>
<rect x="180.14" y="379" width="1.55" height="6.4" fill="#000"/>
<rect x="200.24" y="381.45" width="6.6" height="1.55" fill="#000"/>
<rect x="202.76" y="379" width="1.55" height="6.4" fill="#000"/>
<text x="215.6" y="384.7" font-size="10.3" font-weight="normal" text-anchor="start" fill="#000" textLength="17.5" lengthAdjust="spacingAndGlyphs"  stroke="#000" stroke-width="0.38">IL-3</text>
<rect x="43.3" y="393.8" width="3.8" height="1.5" fill="#000"/>
<rect x="65.92" y="393.8" width="3.8" height="1.5" fill="#000"/>
<rect x="87.14" y="393.65" width="6.6" height="1.55" fill="#000"/>
<rect x="89.66" y="391.2" width="1.55" height="6.4" fill="#000"/>
<rect x="111.16" y="393.8" width="3.8" height="1.5" fill="#000"/>
<rect x="133.78" y="393.8" width="3.8" height="1.5" fill="#000"/>
<rect x="156.4" y="393.8" width="3.8" height="1.5" fill="#000"/>
<rect x="177.62" y="393.65" width="6.6" height="1.55" fill="#000"/>
<rect x="180.14" y="391.2" width="1.55" height="6.4" fill="#000"/>
<rect x="201.64" y="393.8" width="3.8" height="1.5" fill="#000"/>
<text x="215.6" y="396.5" font-size="10.3" font-weight="normal" text-anchor="start" fill="#000" textLength="36.5" lengthAdjust="spacingAndGlyphs"  stroke="#000" stroke-width="0.38">CSL362</text>
<rect x="43.3" y="405.6" width="3.8" height="1.5" fill="#000"/>
<rect x="65.92" y="405.6" width="3.8" height="1.5" fill="#000"/>
<rect x="88.54" y="405.6" width="3.8" height="1.5" fill="#000"/>
<rect x="109.76" y="405.45" width="6.6" height="1.55" fill="#000"/>
<rect x="112.28" y="403" width="1.55" height="6.4" fill="#000"/>
<rect x="133.78" y="405.6" width="3.8" height="1.5" fill="#000"/>
<rect x="156.4" y="405.6" width="3.8" height="1.5" fill="#000"/>
<rect x="179.02" y="405.6" width="3.8" height="1.5" fill="#000"/>
<rect x="200.24" y="405.45" width="6.6" height="1.55" fill="#000"/>
<rect x="202.76" y="403" width="1.55" height="6.4" fill="#000"/>
<text x="215.6" y="408.6" font-size="10.3" font-weight="normal" text-anchor="start" fill="#000" textLength="21.5" lengthAdjust="spacingAndGlyphs"  stroke="#000" stroke-width="0.38">BM4</text>
<text x="1" y="228.6" font-size="18.4" font-weight="bold" text-anchor="start" fill="#000" >C</text>
<line x1="295.8" y1="233.9" x2="476" y2="233.9" stroke="#d4d4d4" stroke-width="1" />
<line x1="295.8" y1="244.3" x2="476" y2="244.3" stroke="#d4d4d4" stroke-width="1" />
<line x1="295.8" y1="254.6" x2="476" y2="254.6" stroke="#d4d4d4" stroke-width="1" />
<line x1="295.3" y1="342.2" x2="476" y2="342.2" stroke="#d4d4d4" stroke-width="1" />
<line x1="295.3" y1="329.9" x2="476" y2="329.9" stroke="#d4d4d4" stroke-width="1" />
<line x1="295.3" y1="317.6" x2="476" y2="317.6" stroke="#d4d4d4" stroke-width="1" />
<line x1="295.3" y1="305.3" x2="476" y2="305.3" stroke="#d4d4d4" stroke-width="1" />
<line x1="295.3" y1="293" x2="476" y2="293" stroke="#d4d4d4" stroke-width="1" />
<line x1="295.3" y1="280.7" x2="476" y2="280.7" stroke="#d4d4d4" stroke-width="1" />
<line x1="295.3" y1="268.4" x2="476" y2="268.4" stroke="#d4d4d4" stroke-width="1" />
<rect x="405" y="240.5" width="76" height="43" fill="#fff"/>
<line x1="294.3" y1="233.3" x2="294.3" y2="256.6" stroke="#000" stroke-width="1.5" />
<line x1="292.4" y1="256.6" x2="298" y2="256.6" stroke="#000" stroke-width="1.5" />
<line x1="290.9" y1="233.9" x2="294.3" y2="233.9" stroke="#000" stroke-width="1.5" />
<text x="289.9" y="236.91" font-size="8.4" font-weight="bold" text-anchor="end" textLength="14.25" lengthAdjust="spacingAndGlyphs" stroke="#000" stroke-width="0.25">400</text>
<line x1="290.9" y1="244.3" x2="294.3" y2="244.3" stroke="#000" stroke-width="1.5" />
<text x="289.9" y="247.31" font-size="8.4" font-weight="bold" text-anchor="end" textLength="14.25" lengthAdjust="spacingAndGlyphs" stroke="#000" stroke-width="0.25">300</text>
<line x1="290.9" y1="254.6" x2="294.3" y2="254.6" stroke="#000" stroke-width="1.5" />
<text x="289.9" y="257.61" font-size="8.4" font-weight="bold" text-anchor="end" textLength="14.25" lengthAdjust="spacingAndGlyphs" stroke="#000" stroke-width="0.25">200</text>
<line x1="292.4" y1="265.6" x2="298" y2="265.6" stroke="#000" stroke-width="1.5" />
<line x1="294.3" y1="265.6" x2="294.3" y2="355.1" stroke="#000" stroke-width="1.5" />
<line x1="290.7" y1="354.5" x2="294.3" y2="354.5" stroke="#000" stroke-width="1.5" />
<text x="289.8" y="357.58" font-size="8.6" font-weight="bold" text-anchor="end" textLength="4.4" lengthAdjust="spacingAndGlyphs" stroke="#000" stroke-width="0.25">0</text>
<line x1="292.1" y1="342.2" x2="294.3" y2="342.2" stroke="#000" stroke-width="1.5" />
<line x1="290.7" y1="329.9" x2="294.3" y2="329.9" stroke="#000" stroke-width="1.5" />
<text x="289.8" y="332.98" font-size="8.6" font-weight="bold" text-anchor="end" textLength="8.8" lengthAdjust="spacingAndGlyphs" stroke="#000" stroke-width="0.25">50</text>
<line x1="292.1" y1="317.6" x2="294.3" y2="317.6" stroke="#000" stroke-width="1.5" />
<line x1="290.7" y1="305.3" x2="294.3" y2="305.3" stroke="#000" stroke-width="1.5" />
<text x="289.8" y="308.38" font-size="8.6" font-weight="bold" text-anchor="end" textLength="13.2" lengthAdjust="spacingAndGlyphs" stroke="#000" stroke-width="0.25">100</text>
<line x1="292.1" y1="293" x2="294.3" y2="293" stroke="#000" stroke-width="1.5" />
<line x1="290.7" y1="280.7" x2="294.3" y2="280.7" stroke="#000" stroke-width="1.5" />
<text x="289.8" y="283.78" font-size="8.6" font-weight="bold" text-anchor="end" textLength="13.2" lengthAdjust="spacingAndGlyphs" stroke="#000" stroke-width="0.25">150</text>
<line x1="292.1" y1="268.4" x2="294.3" y2="268.4" stroke="#000" stroke-width="1.5" />
<line x1="293.7" y1="354.5" x2="476.4" y2="354.5" stroke="#000" stroke-width="1.5" />
<rect x="296.7" y="304" width="6.1" height="50.5" fill="#050505"/>
<rect x="302.8" y="304" width="6.1" height="50.5" fill="#ababab"/>
<rect x="308.9" y="304" width="6.1" height="50.5" fill="#888888"/>
<line x1="305.7" y1="354.5" x2="305.7" y2="358.5" stroke="#000" stroke-width="1.5" />
<rect x="319.38" y="266.6" width="6.1" height="87.9" fill="#050505"/>
<rect x="325.48" y="265.6" width="6.1" height="88.9" fill="#ababab"/>
<rect x="331.58" y="305.7" width="6.1" height="48.8" fill="#888888"/>
<rect x="325.48" y="243.7" width="6.1" height="12.9" fill="#ababab"/>
<line x1="328.38" y1="354.5" x2="328.38" y2="358.5" stroke="#000" stroke-width="1.5" />
<rect x="342.06" y="322.7" width="6.1" height="31.8" fill="#050505"/>
<rect x="348.16" y="294.6" width="6.1" height="59.9" fill="#ababab"/>
<rect x="354.26" y="314.8" width="6.1" height="39.7" fill="#888888"/>
<line x1="351.06" y1="354.5" x2="351.06" y2="358.5" stroke="#000" stroke-width="1.5" />
<rect x="364.74" y="276" width="6.1" height="78.5" fill="#050505"/>
<rect x="370.84" y="265.6" width="6.1" height="88.9" fill="#ababab"/>
<rect x="376.94" y="298.2" width="6.1" height="56.3" fill="#888888"/>
<rect x="370.84" y="237" width="6.1" height="19.6" fill="#ababab"/>
<line x1="373.74" y1="354.5" x2="373.74" y2="358.5" stroke="#000" stroke-width="1.5" />
<rect x="387.42" y="324.8" width="6.1" height="29.7" fill="#050505"/>
<rect x="399.62" y="329" width="6.1" height="25.5" fill="#888888"/>
<line x1="396.42" y1="354.5" x2="396.42" y2="358.5" stroke="#000" stroke-width="1.5" />
<rect x="410.1" y="302.3" width="6.1" height="52.2" fill="#050505"/>
<rect x="416.2" y="342.5" width="6.1" height="12" fill="#ababab"/>
<rect x="422.3" y="319.6" width="6.1" height="34.9" fill="#888888"/>
<line x1="419.1" y1="354.5" x2="419.1" y2="358.5" stroke="#000" stroke-width="1.5" />
<rect x="432.78" y="333.5" width="6.1" height="21" fill="#050505"/>
<rect x="438.88" y="349.1" width="6.1" height="5.4" fill="#ababab"/>
<rect x="444.98" y="335.8" width="6.1" height="18.7" fill="#888888"/>
<line x1="441.78" y1="354.5" x2="441.78" y2="358.5" stroke="#000" stroke-width="1.5" />
<rect x="455.46" y="319" width="6.1" height="35.5" fill="#050505"/>
<rect x="461.56" y="339" width="6.1" height="15.5" fill="#ababab"/>
<rect x="467.66" y="331.4" width="6.1" height="23.1" fill="#888888"/>
<line x1="464.46" y1="354.5" x2="464.46" y2="358.5" stroke="#000" stroke-width="1.5" />
<rect x="406.8" y="244.8" width="15" height="7.9" fill="#050505"/>
<rect x="406.8" y="258.8" width="15" height="7.6" fill="#ababab"/>
<rect x="406.8" y="272.1" width="15" height="7.8" fill="#888888"/>
<text x="428" y="252.6" font-size="10.4" font-weight="normal" text-anchor="start" fill="#000" textLength="45.8" lengthAdjust="spacingAndGlyphs"  stroke="#000" stroke-width="0.38">CP-CML 2</text>
<text x="428" y="266.4" font-size="10.4" font-weight="normal" text-anchor="start" fill="#000" textLength="45.8" lengthAdjust="spacingAndGlyphs"  stroke="#000" stroke-width="0.38">CP-CML 6</text>
<text x="428" y="280.1" font-size="10.4" font-weight="normal" text-anchor="start" fill="#000" textLength="51.3" lengthAdjust="spacingAndGlyphs"  stroke="#000" stroke-width="0.38">CP-CML 12</text>
<text transform="translate(269.6,294.95) rotate(-90)" x="0" y="0" font-size="9.7" font-weight="bold" text-anchor="middle" textLength="91.9" lengthAdjust="spacingAndGlyphs" stroke="#000" stroke-width="0.2"># LTC-IC [% of ctrl]</text>
<rect x="305.2" y="369.9" width="3.8" height="1.5" fill="#000"/>
<rect x="327.7" y="369.9" width="3.8" height="1.5" fill="#000"/>
<rect x="350.2" y="369.9" width="3.8" height="1.5" fill="#000"/>
<rect x="372.7" y="369.9" width="3.8" height="1.5" fill="#000"/>
<rect x="393.8" y="369.75" width="6.6" height="1.55" fill="#000"/>
<rect x="396.32" y="367.3" width="1.55" height="6.4" fill="#000"/>
<rect x="416.3" y="369.75" width="6.6" height="1.55" fill="#000"/>
<rect x="418.82" y="367.3" width="1.55" height="6.4" fill="#000"/>
<rect x="438.8" y="369.75" width="6.6" height="1.55" fill="#000"/>
<rect x="441.32" y="367.3" width="1.55" height="6.4" fill="#000"/>
<rect x="461.3" y="369.75" width="6.6" height="1.55" fill="#000"/>
<rect x="463.82" y="367.3" width="1.55" height="6.4" fill="#000"/>
<text x="477" y="372.5" font-size="10.3" font-weight="normal" text-anchor="start" fill="#000" textLength="42" lengthAdjust="spacingAndGlyphs"  stroke="#000" stroke-width="0.38">Dasatinib</text>
<rect x="305.2" y="381.6" width="3.8" height="1.5" fill="#000"/>
<rect x="326.3" y="381.45" width="6.6" height="1.55" fill="#000"/>
<rect x="328.82" y="379" width="1.55" height="6.4" fill="#000"/>
<rect x="348.8" y="381.45" width="6.6" height="1.55" fill="#000"/>
<rect x="351.32" y="379" width="1.55" height="6.4" fill="#000"/>
<rect x="371.3" y="381.45" width="6.6" height="1.55" fill="#000"/>
<rect x="373.82" y="379" width="1.55" height="6.4" fill="#000"/>
<rect x="395.2" y="381.6" width="3.8" height="1.5" fill="#000"/>
<rect x="416.3" y="381.45" width="6.6" height="1.55" fill="#000"/>
<rect x="418.82" y="379" width="1.55" height="6.4" fill="#000"/>
<rect x="438.8" y="381.45" width="6.6" height="1.55" fill="#000"/>
<rect x="441.32" y="379" width="1.55" height="6.4" fill="#000"/>
<rect x="461.3" y="381.45" width="6.6" height="1.55" fill="#000"/>
<rect x="463.82" y="379" width="1.55" height="6.4" fill="#000"/>
<text x="477" y="384.8" font-size="10.3" font-weight="normal" text-anchor="start" fill="#000" textLength="17.5" lengthAdjust="spacingAndGlyphs"  stroke="#000" stroke-width="0.38">IL-3</text>
<rect x="305.2" y="393.9" width="3.8" height="1.5" fill="#000"/>
<rect x="327.7" y="393.9" width="3.8" height="1.5" fill="#000"/>
<rect x="348.8" y="393.75" width="6.6" height="1.55" fill="#000"/>
<rect x="351.32" y="391.3" width="1.55" height="6.4" fill="#000"/>
<rect x="372.7" y="393.9" width="3.8" height="1.5" fill="#000"/>
<rect x="395.2" y="393.9" width="3.8" height="1.5" fill="#000"/>
<rect x="417.7" y="393.9" width="3.8" height="1.5" fill="#000"/>
<rect x="438.8" y="393.75" width="6.6" height="1.55" fill="#000"/>
<rect x="441.32" y="391.3" width="1.55" height="6.4" fill="#000"/>
<rect x="462.7" y="393.9" width="3.8" height="1.5" fill="#000"/>
<text x="477" y="396.3" font-size="10.3" font-weight="normal" text-anchor="start" fill="#000" textLength="36.5" lengthAdjust="spacingAndGlyphs"  stroke="#000" stroke-width="0.38">CSL362</text>
<rect x="305.2" y="405.6" width="3.8" height="1.5" fill="#000"/>
<rect x="327.7" y="405.6" width="3.8" height="1.5" fill="#000"/>
<rect x="350.2" y="405.6" width="3.8" height="1.5" fill="#000"/>
<rect x="371.3" y="405.45" width="6.6" height="1.55" fill="#000"/>
<rect x="373.82" y="403" width="1.55" height="6.4" fill="#000"/>
<rect x="395.2" y="405.6" width="3.8" height="1.5" fill="#000"/>
<rect x="417.7" y="405.6" width="3.8" height="1.5" fill="#000"/>
<rect x="440.2" y="405.6" width="3.8" height="1.5" fill="#000"/>
<rect x="461.3" y="405.45" width="6.6" height="1.55" fill="#000"/>
<rect x="463.82" y="403" width="1.55" height="6.4" fill="#000"/>
<text x="477" y="408.6" font-size="10.3" font-weight="normal" text-anchor="start" fill="#000" textLength="21.5" lengthAdjust="spacingAndGlyphs"  stroke="#000" stroke-width="0.38">BM4</text>
<text x="254.8" y="228.6" font-size="18.4" font-weight="bold" text-anchor="start" fill="#000" >D</text>
<line x1="30" y1="555.3" x2="187.5" y2="555.3" stroke="#e6e6e6" stroke-width="0.9" />
<line x1="30" y1="565" x2="187.5" y2="565" stroke="#e6e6e6" stroke-width="0.9" />
<line x1="30" y1="574.8" x2="187.5" y2="574.8" stroke="#e6e6e6" stroke-width="0.9" />
<line x1="30" y1="584.8" x2="187.5" y2="584.8" stroke="#e6e6e6" stroke-width="0.9" />
<line x1="30" y1="594.7" x2="187.5" y2="594.7" stroke="#e6e6e6" stroke-width="0.9" />
<line x1="30" y1="604.2" x2="187.5" y2="604.2" stroke="#e6e6e6" stroke-width="0.9" />
<line x1="28.9" y1="432.3" x2="28.9" y2="478" stroke="#7a7a7a" stroke-width="1.1" />
<line x1="28.9" y1="478" x2="28.9" y2="620" stroke="#adadad" stroke-width="1.1" />
<line x1="28.9" y1="545.3" x2="188.7" y2="545.3" stroke="#8a8a8a" stroke-width="1" />
<line x1="188.7" y1="545.3" x2="190.5" y2="620.2" stroke="#9a9a9a" stroke-width="1" />
<path d="M48.3,554.6 L52.8,552 L55.6,546.4 L56.9,539.4 L59,525.6 L60.4,511.7 L61.8,497.8 L63.2,483.9 L64,478.5 L64.6,476.2 L65.3,478.5 L66.4,483.9 L67.8,497.8 L69.4,511.7 L70.8,525.6 L71.9,533.9 L73.5,545 L75.5,551 L79,554.6 Z" fill="#b4b4b4" />
<path d="M88,576 L94.4,537.4 L96.3,530.5 L98.2,527.6 L99.8,532 L101.5,538.5 L103.9,547.7 L105.7,556.9 L108.5,564.3 L111.2,568.9 L114.9,571.7 L120,572.3 L125,572.8 L135,574 L135,577 L88,577 Z" fill="#050505" />
<path d="M76.5,585 L78,580 L78.7,572.9 L80,554.4 L81.5,536 L82.8,517.5 L84.2,499 L85.7,480.5 L86.7,473 L87.6,468.3 L88.5,473 L89.4,480.5 L91.3,499 L92.9,517.5 L94,532.2 L94.6,537.4 L95.3,554.4 L97.2,572.9 L99.2,575.5 L102,578 L110,580 L120,582 L120,585 Z" fill="#262626" />
<path d="M62,594.5 L70,590 L76.9,583 L85,580 L98.8,576.2 L110,574.5 L116,573.6 L122,573.2 L125,572.4 L127.9,564 L130,558.8 L131.6,553.5 L133.5,549.2 L135,551.5 L137,558 L138.5,565 L140,573 L141.9,583 L144,590 L146.5,593.8 L148,594.5 Z" fill="#727272" />
<path d="M62,604.4 L72,599 L80,593 L85,591.1 L100,589 L110,585.5 L120,583 L128,580 L131,573 L133,566 L134.5,561 L136.5,563 L138,570 L141,582 L144,592 L147,599 L149,603 L151,604.4 Z" fill="#8c8c8c" />
<path d="M30,614.8 L45.9,614.3 L53.2,612 L58,609.5 L61.5,604 L64.5,592 L66.1,575.4 L68.9,557 L71.2,543 L73,533.9 L74.5,537 L75.6,545 L77.5,558 L78.8,570 L81,585 L83.9,600 L87,607 L89.8,610.5 L94,613 L98.6,614.3 L160,614.8 Z" fill="url(#xh)" />
<path d="M30,614.5 L50,614.5" fill="none" stroke="#777" stroke-width="0.9" stroke-linejoin="round" stroke-dasharray="1.4,2.6"/>
<path d="M99,614.5 L160,614.5" fill="none" stroke="#999" stroke-width="0.9" stroke-linejoin="round" stroke-dasharray="1.4,2.6"/>
<path d="M28.5,619.8 L40,619.7 L48,619.2 L51,618 L55.5,616 L59.6,613.7 L63,611.2 L66.5,609.4 L71.7,608.5 L78.6,610 L85.6,610.8 L94.2,609.4 L102.9,607.7 L111.5,605.8 L120.8,602.5 L126.2,599.3 L130.5,592.8 L133.2,588.5 L134.6,586.1 L136.9,589.6 L139.1,597.1 L142.3,609 L144.2,615.4 L146,618.5 L148.8,620 L190.5,620" fill="none" stroke="#000" stroke-width="1.4" stroke-linejoin="round" />
<line x1="27.5" y1="504.6" x2="27.5" y2="626.2" stroke="#000" stroke-width="1.5" />
<line x1="26.8" y1="625.5" x2="190.3" y2="625.5" stroke="#000" stroke-width="1.5" />
<line x1="24.1" y1="625.5" x2="27.5" y2="625.5" stroke="#000" stroke-width="1.1" />
<line x1="25.5" y1="618.01" x2="27.5" y2="618.01" stroke="#000" stroke-width="1" />
<line x1="25.5" y1="610.51" x2="27.5" y2="610.51" stroke="#000" stroke-width="1" />
<line x1="25.5" y1="603.02" x2="27.5" y2="603.02" stroke="#000" stroke-width="1" />
<line x1="24.1" y1="595.52" x2="27.5" y2="595.52" stroke="#000" stroke-width="1.1" />
<line x1="25.5" y1="588.03" x2="27.5" y2="588.03" stroke="#000" stroke-width="1" />
<line x1="25.5" y1="580.54" x2="27.5" y2="580.54" stroke="#000" stroke-width="1" />
<line x1="25.5" y1="573.04" x2="27.5" y2="573.04" stroke="#000" stroke-width="1" />
<line x1="24.1" y1="565.55" x2="27.5" y2="565.55" stroke="#000" stroke-width="1.1" />
<line x1="25.5" y1="558.06" x2="27.5" y2="558.06" stroke="#000" stroke-width="1" />
<line x1="25.5" y1="550.56" x2="27.5" y2="550.56" stroke="#000" stroke-width="1" />
<line x1="25.5" y1="543.07" x2="27.5" y2="543.07" stroke="#000" stroke-width="1" />
<line x1="24.1" y1="535.58" x2="27.5" y2="535.58" stroke="#000" stroke-width="1.1" />
<line x1="25.5" y1="528.08" x2="27.5" y2="528.08" stroke="#000" stroke-width="1" />
<line x1="25.5" y1="520.59" x2="27.5" y2="520.59" stroke="#000" stroke-width="1" />
<line x1="25.5" y1="513.09" x2="27.5" y2="513.09" stroke="#000" stroke-width="1" />
<line x1="24.1" y1="505.6" x2="27.5" y2="505.6" stroke="#000" stroke-width="1.1" />
<text x="22.8" y="628.01" font-size="7" font-weight="bold" text-anchor="end" textLength="3.65" lengthAdjust="spacingAndGlyphs" stroke="#000" stroke-width="0.25">0</text>
<text x="22.8" y="598.11" font-size="7" font-weight="bold" text-anchor="end" textLength="10.95" lengthAdjust="spacingAndGlyphs" stroke="#000" stroke-width="0.25">571</text>
<text x="22.8" y="568.21" font-size="7" font-weight="bold" text-anchor="end" textLength="14.6" lengthAdjust="spacingAndGlyphs" stroke="#000" stroke-width="0.25">1141</text>
<text x="22.8" y="538.21" font-size="7" font-weight="bold" text-anchor="end" textLength="14.6" lengthAdjust="spacingAndGlyphs" stroke="#000" stroke-width="0.25">1712</text>
<text x="22.8" y="508.11" font-size="7" font-weight="bold" text-anchor="end" textLength="14.6" lengthAdjust="spacingAndGlyphs" stroke="#000" stroke-width="0.25">2282</text>
<line x1="40.36" y1="625.5" x2="40.36" y2="627.3" stroke="#000" stroke-width="0.8" />
<line x1="47.48" y1="625.5" x2="47.48" y2="627.3" stroke="#000" stroke-width="0.8" />
<line x1="52.52" y1="625.5" x2="52.52" y2="627.3" stroke="#000" stroke-width="0.8" />
<line x1="56.44" y1="625.5" x2="56.44" y2="627.3" stroke="#000" stroke-width="0.8" />
<line x1="59.64" y1="625.5" x2="59.64" y2="627.3" stroke="#000" stroke-width="0.8" />
<line x1="62.34" y1="625.5" x2="62.34" y2="627.3" stroke="#000" stroke-width="0.8" />
<line x1="64.68" y1="625.5" x2="64.68" y2="627.3" stroke="#000" stroke-width="0.8" />
<line x1="66.75" y1="625.5" x2="66.75" y2="627.3" stroke="#000" stroke-width="0.8" />
<line x1="80.94" y1="625.5" x2="80.94" y2="627.3" stroke="#000" stroke-width="0.8" />
<line x1="88.16" y1="625.5" x2="88.16" y2="627.3" stroke="#000" stroke-width="0.8" />
<line x1="93.28" y1="625.5" x2="93.28" y2="627.3" stroke="#000" stroke-width="0.8" />
<line x1="97.26" y1="625.5" x2="97.26" y2="627.3" stroke="#000" stroke-width="0.8" />
<line x1="100.5" y1="625.5" x2="100.5" y2="627.3" stroke="#000" stroke-width="0.8" />
<line x1="103.25" y1="625.5" x2="103.25" y2="627.3" stroke="#000" stroke-width="0.8" />
<line x1="105.63" y1="625.5" x2="105.63" y2="627.3" stroke="#000" stroke-width="0.8" />
<line x1="107.72" y1="625.5" x2="107.72" y2="627.3" stroke="#000" stroke-width="0.8" />
<line x1="121.73" y1="625.5" x2="121.73" y2="627.3" stroke="#000" stroke-width="0.8" />
<line x1="128.83" y1="625.5" x2="128.83" y2="627.3" stroke="#000" stroke-width="0.8" />
<line x1="133.86" y1="625.5" x2="133.86" y2="627.3" stroke="#000" stroke-width="0.8" />
<line x1="137.77" y1="625.5" x2="137.77" y2="627.3" stroke="#000" stroke-width="0.8" />
<line x1="140.96" y1="625.5" x2="140.96" y2="627.3" stroke="#000" stroke-width="0.8" />
<line x1="143.66" y1="625.5" x2="143.66" y2="627.3" stroke="#000" stroke-width="0.8" />
<line x1="145.99" y1="625.5" x2="145.99" y2="627.3" stroke="#000" stroke-width="0.8" />
<line x1="148.06" y1="625.5" x2="148.06" y2="627.3" stroke="#000" stroke-width="0.8" />
<line x1="161.91" y1="625.5" x2="161.91" y2="627.3" stroke="#000" stroke-width="0.8" />
<line x1="168.94" y1="625.5" x2="168.94" y2="627.3" stroke="#000" stroke-width="0.8" />
<line x1="173.92" y1="625.5" x2="173.92" y2="627.3" stroke="#000" stroke-width="0.8" />
<line x1="177.79" y1="625.5" x2="177.79" y2="627.3" stroke="#000" stroke-width="0.8" />
<line x1="180.95" y1="625.5" x2="180.95" y2="627.3" stroke="#000" stroke-width="0.8" />
<line x1="183.62" y1="625.5" x2="183.62" y2="627.3" stroke="#000" stroke-width="0.8" />
<line x1="185.93" y1="625.5" x2="185.93" y2="627.3" stroke="#000" stroke-width="0.8" />
<line x1="187.97" y1="625.5" x2="187.97" y2="627.3" stroke="#000" stroke-width="0.8" />
<line x1="28.2" y1="625.5" x2="28.2" y2="628.7" stroke="#000" stroke-width="1" />
<line x1="68.6" y1="625.5" x2="68.6" y2="628.7" stroke="#000" stroke-width="1" />
<line x1="109.6" y1="625.5" x2="109.6" y2="628.7" stroke="#000" stroke-width="1" />
<line x1="149.9" y1="625.5" x2="149.9" y2="628.7" stroke="#000" stroke-width="1" />
<line x1="189.8" y1="625.5" x2="189.8" y2="628.7" stroke="#000" stroke-width="1" />
<text x="27.4" y="636.6" font-size="6.6" font-weight="bold" text-anchor="middle">10<tspan font-size="4.6" dy="-3.6">0</tspan></text>
<text x="67.8" y="636.6" font-size="6.6" font-weight="bold" text-anchor="middle">10<tspan font-size="4.6" dy="-3.6">1</tspan></text>
<text x="108.8" y="636.6" font-size="6.6" font-weight="bold" text-anchor="middle">10<tspan font-size="4.6" dy="-3.6">2</tspan></text>
<text x="149.1" y="636.6" font-size="6.6" font-weight="bold" text-anchor="middle">10<tspan font-size="4.6" dy="-3.6">3</tspan></text>
<text x="189" y="636.6" font-size="6.6" font-weight="bold" text-anchor="middle">10<tspan font-size="4.6" dy="-3.6">4</tspan></text>
<text x="72" y="642.6" font-size="8.4" font-weight="bold" text-anchor="start" fill="#000" textLength="72.6" lengthAdjust="spacingAndGlyphs" >pSTAT5-Alexa 488</text>
<text transform="translate(6,564.9) rotate(-90)" x="0" y="0" font-size="7.4" font-weight="bold" text-anchor="middle" textLength="19.6" lengthAdjust="spacingAndGlyphs" stroke="#000" stroke-width="0.2">count</text>
<rect x="100" y="432.6" width="14.5" height="10.2" fill="#b4b4b4"/>
<rect x="100" y="443.5" width="14.5" height="10.2" fill="#050505"/>
<rect x="100" y="454.4" width="14.5" height="10.2" fill="#262626"/>
<rect x="100" y="465.3" width="14.5" height="10.2" fill="#727272"/>
<rect x="100" y="476.2" width="14.5" height="10.2" fill="#8c8c8c"/>
<rect x="100" y="487.1" width="14.5" height="10.2" fill="url(#fchk)"/>
<line x1="99.6" y1="502.3" x2="114.4" y2="502.3" stroke="#000" stroke-width="1.5" />
<text x="121.5" y="440.9" font-size="8.5" font-weight="bold" text-anchor="start" fill="#000" textLength="60.4" lengthAdjust="spacingAndGlyphs" >isotype control</text>
<text x="121.5" y="451.8" font-size="8.5" font-weight="bold" text-anchor="start" fill="#000" textLength="33.9" lengthAdjust="spacingAndGlyphs" >baseline</text>
<text x="121.5" y="462.7" font-size="8.5" font-weight="bold" text-anchor="start" fill="#000" textLength="38.7" lengthAdjust="spacingAndGlyphs" >Dasatinib</text>
<text x="121.5" y="473.6" font-size="8.5" font-weight="bold" text-anchor="start" fill="#000" textLength="15.1" lengthAdjust="spacingAndGlyphs" >IL-3</text>
<text x="121.5" y="484.5" font-size="8.5" font-weight="bold" text-anchor="start" fill="#000" textLength="65.1" lengthAdjust="spacingAndGlyphs" >Dasatinib + IL-3</text>
<text x="121.5" y="495.4" font-size="8.5" font-weight="bold" text-anchor="start" fill="#000" textLength="110.6" lengthAdjust="spacingAndGlyphs" >Dasatinib + IL-3 + CSL362</text>
<text x="121.5" y="506.3" font-size="8.5" font-weight="bold" text-anchor="start" fill="#000" textLength="95.7" lengthAdjust="spacingAndGlyphs" >Dasatinib + IL-3 + BM4</text>
<text x="1.2" y="439" font-size="18.4" font-weight="bold" text-anchor="start" fill="#000" >E</text>
<line x1="295.4" y1="579.86" x2="467" y2="579.86" stroke="#d4d4d4" stroke-width="1" />
<line x1="295.4" y1="566.12" x2="467" y2="566.12" stroke="#d4d4d4" stroke-width="1" />
<line x1="295.4" y1="552.38" x2="467" y2="552.38" stroke="#d4d4d4" stroke-width="1" />
<line x1="295.4" y1="538.64" x2="467" y2="538.64" stroke="#d4d4d4" stroke-width="1" />
<line x1="295.4" y1="524.9" x2="467" y2="524.9" stroke="#d4d4d4" stroke-width="1" />
<line x1="295.4" y1="511.16" x2="467" y2="511.16" stroke="#d4d4d4" stroke-width="1" />
<line x1="295.4" y1="497.42" x2="467" y2="497.42" stroke="#d4d4d4" stroke-width="1" />
<line x1="295.4" y1="483.68" x2="467" y2="483.68" stroke="#d4d4d4" stroke-width="1" />
<line x1="295.4" y1="469.94" x2="467" y2="469.94" stroke="#d4d4d4" stroke-width="1" />
<line x1="295.4" y1="456.2" x2="467" y2="456.2" stroke="#d4d4d4" stroke-width="1" />
<line x1="290.8" y1="593.6" x2="294.4" y2="593.6" stroke="#000" stroke-width="1.5" />
<text x="290" y="596.68" font-size="8.6" font-weight="bold" text-anchor="end" textLength="4.1" lengthAdjust="spacingAndGlyphs" stroke="#000" stroke-width="0.25">0</text>
<line x1="292.2" y1="579.86" x2="294.4" y2="579.86" stroke="#000" stroke-width="1.5" />
<line x1="290.8" y1="566.12" x2="294.4" y2="566.12" stroke="#000" stroke-width="1.5" />
<text x="290" y="569.2" font-size="8.6" font-weight="bold" text-anchor="end" textLength="8.2" lengthAdjust="spacingAndGlyphs" stroke="#000" stroke-width="0.25">50</text>
<line x1="292.2" y1="552.38" x2="294.4" y2="552.38" stroke="#000" stroke-width="1.5" />
<line x1="290.8" y1="538.64" x2="294.4" y2="538.64" stroke="#000" stroke-width="1.5" />
<text x="290" y="541.72" font-size="8.6" font-weight="bold" text-anchor="end" textLength="12.3" lengthAdjust="spacingAndGlyphs" stroke="#000" stroke-width="0.25">100</text>
<line x1="292.2" y1="524.9" x2="294.4" y2="524.9" stroke="#000" stroke-width="1.5" />
<line x1="290.8" y1="511.16" x2="294.4" y2="511.16" stroke="#000" stroke-width="1.5" />
<text x="290" y="514.24" font-size="8.6" font-weight="bold" text-anchor="end" textLength="12.3" lengthAdjust="spacingAndGlyphs" stroke="#000" stroke-width="0.25">150</text>
<line x1="292.2" y1="497.42" x2="294.4" y2="497.42" stroke="#000" stroke-width="1.5" />
<line x1="290.8" y1="483.68" x2="294.4" y2="483.68" stroke="#000" stroke-width="1.5" />
<text x="290" y="486.76" font-size="8.6" font-weight="bold" text-anchor="end" textLength="12.3" lengthAdjust="spacingAndGlyphs" stroke="#000" stroke-width="0.25">200</text>
<line x1="292.2" y1="469.94" x2="294.4" y2="469.94" stroke="#000" stroke-width="1.5" />
<line x1="290.8" y1="456.2" x2="294.4" y2="456.2" stroke="#000" stroke-width="1.5" />
<text x="290" y="459.28" font-size="8.6" font-weight="bold" text-anchor="end" textLength="12.3" lengthAdjust="spacingAndGlyphs" stroke="#000" stroke-width="0.25">250</text>
<line x1="294.4" y1="454.6" x2="294.4" y2="594.2" stroke="#000" stroke-width="1.5" />
<line x1="293.8" y1="593.6" x2="467.2" y2="593.6" stroke="#000" stroke-width="1.5" />
<rect x="298.4" y="539" width="9.6" height="54.6" fill="#333333"/>
<rect x="309.2" y="539" width="10.2" height="54.6" fill="url(#chk)"/>
<rect x="309.6" y="539.4" width="9.4" height="54.2" fill="none" stroke="#000" stroke-width="0.8"/>
<line x1="308.9" y1="593.6" x2="308.9" y2="597.6" stroke="#000" stroke-width="1.5" />
<rect x="327.15" y="473.2" width="9.6" height="120.4" fill="#333333"/>
<line x1="331.95" y1="473.2" x2="331.95" y2="458.8" stroke="#000" stroke-width="1.9" />
<line x1="327.95" y1="458.8" x2="335.95" y2="458.8" stroke="#000" stroke-width="2.2" />
<rect x="337.95" y="528.9" width="10.2" height="64.7" fill="url(#chk)"/>
<rect x="338.35" y="529.3" width="9.4" height="64.3" fill="none" stroke="#000" stroke-width="0.8"/>
<line x1="343.05" y1="528.9" x2="343.05" y2="523.3" stroke="#000" stroke-width="1.9" />
<line x1="339.05" y1="523.3" x2="347.05" y2="523.3" stroke="#000" stroke-width="2.2" />
<line x1="337.65" y1="593.6" x2="337.65" y2="597.6" stroke="#000" stroke-width="1.5" />
<rect x="355.9" y="563.4" width="9.6" height="30.2" fill="#333333"/>
<line x1="360.7" y1="563.4" x2="360.7" y2="560.7" stroke="#000" stroke-width="1.9" />
<line x1="356.7" y1="560.7" x2="364.7" y2="560.7" stroke="#000" stroke-width="2.2" />
<rect x="366.7" y="565.8" width="10.2" height="27.8" fill="url(#chk)"/>
<rect x="367.1" y="566.2" width="9.4" height="27.4" fill="none" stroke="#000" stroke-width="0.8"/>
<line x1="371.8" y1="565.8" x2="371.8" y2="563.4" stroke="#000" stroke-width="1.9" />
<line x1="367.8" y1="563.4" x2="375.8" y2="563.4" stroke="#000" stroke-width="2.2" />
<line x1="366.4" y1="593.6" x2="366.4" y2="597.6" stroke="#000" stroke-width="1.5" />
<rect x="384.65" y="504.6" width="9.6" height="89" fill="#333333"/>
<line x1="389.45" y1="504.6" x2="389.45" y2="484.9" stroke="#000" stroke-width="1.9" />
<line x1="385.45" y1="484.9" x2="393.45" y2="484.9" stroke="#000" stroke-width="2.2" />
<rect x="395.45" y="562.6" width="10.2" height="31" fill="url(#chk)"/>
<rect x="395.85" y="563" width="9.4" height="30.6" fill="none" stroke="#000" stroke-width="0.8"/>
<line x1="400.55" y1="562.6" x2="400.55" y2="559.3" stroke="#000" stroke-width="1.9" />
<line x1="396.55" y1="559.3" x2="404.55" y2="559.3" stroke="#000" stroke-width="2.2" />
<line x1="395.15" y1="593.6" x2="395.15" y2="597.6" stroke="#000" stroke-width="1.5" />
<rect x="413.4" y="576.6" width="9.6" height="17" fill="#333333"/>
<line x1="418.2" y1="576.6" x2="418.2" y2="574.2" stroke="#000" stroke-width="1.9" />
<line x1="414.2" y1="574.2" x2="422.2" y2="574.2" stroke="#000" stroke-width="2.2" />
<rect x="424.2" y="580.1" width="10.2" height="13.5" fill="url(#chk)"/>
<rect x="424.6" y="580.5" width="9.4" height="13.1" fill="none" stroke="#000" stroke-width="0.8"/>
<line x1="429.3" y1="580.1" x2="429.3" y2="578" stroke="#000" stroke-width="1.9" />
<line x1="425.3" y1="578" x2="433.3" y2="578" stroke="#000" stroke-width="2.2" />
<line x1="423.9" y1="593.6" x2="423.9" y2="597.6" stroke="#000" stroke-width="1.5" />
<rect x="442.15" y="519.4" width="9.6" height="74.2" fill="#333333"/>
<line x1="446.95" y1="519.4" x2="446.95" y2="502.7" stroke="#000" stroke-width="1.9" />
<line x1="442.95" y1="502.7" x2="450.95" y2="502.7" stroke="#000" stroke-width="2.2" />
<rect x="452.95" y="565.8" width="10.2" height="27.8" fill="url(#chk)"/>
<rect x="453.35" y="566.2" width="9.4" height="27.4" fill="none" stroke="#000" stroke-width="0.8"/>
<line x1="458.05" y1="565.8" x2="458.05" y2="560.7" stroke="#000" stroke-width="1.9" />
<line x1="454.05" y1="560.7" x2="462.05" y2="560.7" stroke="#000" stroke-width="2.2" />
<line x1="452.65" y1="593.6" x2="452.65" y2="597.6" stroke="#000" stroke-width="1.5" />
<path d="M331.2,446.85 L331.96,448.55 L333.82,448.75 L332.44,450 L332.82,451.82 L331.2,450.9 L329.58,451.82 L329.96,450 L328.58,448.75 L330.44,448.55 Z" fill="#000" stroke="#000" stroke-width="0.5" stroke-linejoin="round"/>
<path d="M361,548.85 L361.76,550.55 L363.62,550.75 L362.24,552 L362.62,553.82 L361,552.9 L359.38,553.82 L359.76,552 L358.38,550.75 L360.24,550.55 Z" fill="#000" stroke="#000" stroke-width="0.5" stroke-linejoin="round"/>
<path d="M372.4,552.05 L373.16,553.75 L375.02,553.95 L373.64,555.2 L374.02,557.02 L372.4,556.1 L370.78,557.02 L371.16,555.2 L369.78,553.95 L371.64,553.75 Z" fill="#000" stroke="#000" stroke-width="0.5" stroke-linejoin="round"/>
<line x1="391.3" y1="474.4" x2="420.9" y2="474.4" stroke="#000" stroke-width="1.3" />
<line x1="391.3" y1="471.1" x2="391.3" y2="477.7" stroke="#000" stroke-width="1.3" />
<line x1="420.9" y1="471.1" x2="420.9" y2="477.7" stroke="#000" stroke-width="1.3" />
<path d="M405.6,465.05 L406.36,466.75 L408.22,466.95 L406.84,468.2 L407.22,470.02 L405.6,469.1 L403.98,470.02 L404.36,468.2 L402.98,466.95 L404.84,466.75 Z" fill="#000" stroke="#000" stroke-width="0.5" stroke-linejoin="round"/>
<line x1="402.6" y1="547.7" x2="431.7" y2="547.7" stroke="#000" stroke-width="1.3" />
<line x1="402.6" y1="544.4" x2="402.6" y2="551" stroke="#000" stroke-width="1.3" />
<line x1="431.7" y1="544.4" x2="431.7" y2="551" stroke="#000" stroke-width="1.3" />
<path d="M416.9,537.85 L417.66,539.55 L419.52,539.75 L418.14,541 L418.52,542.82 L416.9,541.9 L415.28,542.82 L415.66,541 L414.28,539.75 L416.14,539.55 Z" fill="#000" stroke="#000" stroke-width="0.5" stroke-linejoin="round"/>
<rect x="435.5" y="444.5" width="12.7" height="9.9" fill="#333333"/>
<rect x="435.5" y="458.9" width="12.7" height="9.3" fill="url(#chk2)"/>
<text x="456" y="455.5" font-size="9.8" font-weight="normal" text-anchor="start" fill="#000"  stroke="#000" stroke-width="0.38">[CD34<tspan font-size="6.5" dy="-4.1">+</tspan><tspan dy="4.1">]</tspan></text>
<text x="456" y="469.5" font-size="9.8" font-weight="normal" text-anchor="start" fill="#000"  stroke="#000" stroke-width="0.38">[CD34<tspan font-size="6.5" dy="-4.1">+</tspan><tspan dy="4.1">/CD38</tspan><tspan font-size="6.5" dy="-4.1">-</tspan><tspan dy="4.1">]</tspan></text>
<text transform="translate(270.7,524.8) rotate(-90)" x="0" y="0" font-size="9.7" font-weight="bold" text-anchor="middle" textLength="127.6" lengthAdjust="spacingAndGlyphs" stroke="#000" stroke-width="0.2">pSTAT5 MFI [% of baseline]</text>
<rect x="307" y="609.4" width="3.8" height="1.5" fill="#000"/>
<rect x="335.4" y="609.4" width="3.8" height="1.5" fill="#000"/>
<rect x="364.7" y="609.25" width="6.6" height="1.55" fill="#000"/>
<rect x="367.22" y="606.8" width="1.55" height="6.4" fill="#000"/>
<rect x="394.1" y="609.25" width="6.6" height="1.55" fill="#000"/>
<rect x="396.62" y="606.8" width="1.55" height="6.4" fill="#000"/>
<rect x="422.8" y="609.25" width="6.6" height="1.55" fill="#000"/>
<rect x="425.32" y="606.8" width="1.55" height="6.4" fill="#000"/>
<rect x="450.5" y="609.25" width="6.6" height="1.55" fill="#000"/>
<rect x="453.02" y="606.8" width="1.55" height="6.4" fill="#000"/>
<text x="471" y="612.3" font-size="10.3" font-weight="normal" text-anchor="start" fill="#000" textLength="42" lengthAdjust="spacingAndGlyphs"  stroke="#000" stroke-width="0.38">Dasatinib</text>
<rect x="307" y="621.4" width="3.8" height="1.5" fill="#000"/>
<rect x="334" y="621.25" width="6.6" height="1.55" fill="#000"/>
<rect x="336.52" y="618.8" width="1.55" height="6.4" fill="#000"/>
<rect x="366.1" y="621.4" width="3.8" height="1.5" fill="#000"/>
<rect x="394.1" y="621.25" width="6.6" height="1.55" fill="#000"/>
<rect x="396.62" y="618.8" width="1.55" height="6.4" fill="#000"/>
<rect x="422.8" y="621.25" width="6.6" height="1.55" fill="#000"/>
<rect x="425.32" y="618.8" width="1.55" height="6.4" fill="#000"/>
<rect x="450.5" y="621.25" width="6.6" height="1.55" fill="#000"/>
<rect x="453.02" y="618.8" width="1.55" height="6.4" fill="#000"/>
<text x="471" y="624.4" font-size="10.3" font-weight="normal" text-anchor="start" fill="#000" textLength="17.5" lengthAdjust="spacingAndGlyphs"  stroke="#000" stroke-width="0.38">IL-3</text>
<rect x="307" y="633.6" width="3.8" height="1.5" fill="#000"/>
<rect x="335.4" y="633.6" width="3.8" height="1.5" fill="#000"/>
<rect x="366.1" y="633.6" width="3.8" height="1.5" fill="#000"/>
<rect x="395.5" y="633.6" width="3.8" height="1.5" fill="#000"/>
<rect x="422.8" y="633.45" width="6.6" height="1.55" fill="#000"/>
<rect x="425.32" y="631" width="1.55" height="6.4" fill="#000"/>
<rect x="451.9" y="633.6" width="3.8" height="1.5" fill="#000"/>
<text x="471" y="636.4" font-size="10.3" font-weight="normal" text-anchor="start" fill="#000" textLength="36.5" lengthAdjust="spacingAndGlyphs"  stroke="#000" stroke-width="0.38">CSL362</text>
<rect x="307" y="645.4" width="3.8" height="1.5" fill="#000"/>
<rect x="335.4" y="645.4" width="3.8" height="1.5" fill="#000"/>
<rect x="366.1" y="645.4" width="3.8" height="1.5" fill="#000"/>
<rect x="395.5" y="645.4" width="3.8" height="1.5" fill="#000"/>
<rect x="424.2" y="645.4" width="3.8" height="1.5" fill="#000"/>
<rect x="450.5" y="645.25" width="6.6" height="1.55" fill="#000"/>
<rect x="453.02" y="642.8" width="1.55" height="6.4" fill="#000"/>
<text x="471" y="648.3" font-size="10.3" font-weight="normal" text-anchor="start" fill="#000" textLength="21.5" lengthAdjust="spacingAndGlyphs"  stroke="#000" stroke-width="0.38">BM4</text>
<text x="255.6" y="439" font-size="18.4" font-weight="bold" text-anchor="start" fill="#000" >F</text>
</svg>
</body></html>
